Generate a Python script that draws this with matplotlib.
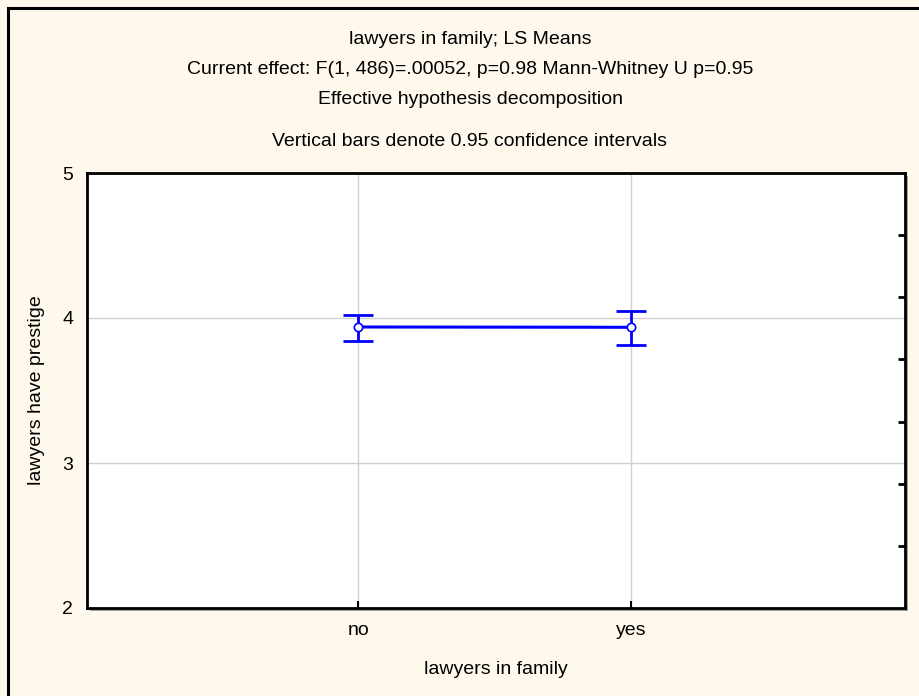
import matplotlib
matplotlib.use("Agg")
import matplotlib.pyplot as plt
from matplotlib.patches import Rectangle
import numpy as np

categories = ["no", "yes"]
means = [3.938, 3.936]
ci_low = [3.839, 3.811]
ci_high = [4.018, 4.050]
y_ticks = [2, 3, 4, 5]
title_lines = [
    "lawyers in family; LS Means",
    "Current effect: F(1, 486)=.00052, p=0.98 Mann-Whitney U p=0.95",
    "Effective hypothesis decomposition",
    "Vertical bars denote 0.95 confidence intervals",
]

plt.rcParams['font.family'] = ['Liberation Sans', 'DejaVu Sans']
bg = '#FFF8EC'
W, H = 920, 696
fig = plt.figure(figsize=(W/100, H/100), dpi=100, facecolor=bg)

# outer frame (top and left visible)
fig.patches.append(Rectangle((8/W, -0.1), 1.2, 1 - 8/H + 0.1, transform=fig.transFigure,
                             fill=False, edgecolor='black', linewidth=2.2, zorder=-1))

l, r, t, b = 87, 905, 173, 608
pos = [l/W, 1 - b/H, (r-l)/W, (b-t)/H]
# shadow
fig.patches.append(Rectangle((pos[0] + 3/W, pos[1] - 3/H), pos[2], pos[3], transform=fig.transFigure,
                             facecolor='#A0A0A0', edgecolor='none', zorder=-1))
ax = fig.add_axes(pos)
ax.set_facecolor('white')

x = np.arange(len(categories))
m = np.array(means)
yerr = np.vstack([m - np.array(ci_low), np.array(ci_high) - m])
ax.plot(x, m, color='#0000FF', linewidth=2.2, zorder=3)
ax.errorbar(x, m, yerr=yerr, fmt='none', ecolor='#0000FF', elinewidth=2,
            capsize=10.5, capthick=2, zorder=3)
ax.plot(x, m, 'o', markersize=6, markerfacecolor='white', markeredgecolor='#0000FF',
        markeredgewidth=1.2, zorder=4)

fs = 14
ax.set_xlim(-0.995, 2.005)
ax.set_ylim(2, 5)
ax.set_xticks(x)
ax.set_xticklabels(categories, fontsize=fs)
ax.set_yticks(y_ticks)
ax.set_yticklabels([str(v) for v in y_ticks], fontsize=fs)
ax.tick_params(axis='x', direction='in', length=5, width=1.5, color='black', pad=10)
ax.tick_params(axis='y', length=0, pad=10)
ax.grid(True, color='#D0D0D0', linewidth=1)
ax.set_axisbelow(True)
for s in ax.spines.values():
    s.set_linewidth(2)
    s.set_color('black')

ax2 = ax.twinx()
ax2.set_ylim(2, 5)
ax2.set_yticks([2 + 3*k/7 for k in range(1, 7)])
ax2.set_yticklabels([])
ax2.tick_params(axis='y', direction='in', length=5, width=2, color='black')
for s in ax2.spines.values():
    s.set_visible(False)

ax.set_xlabel("lawyers in family", fontsize=fs, labelpad=16)
ax.set_ylabel("lawyers have prestige", fontsize=fs, labelpad=12)

ys = [40, 70, 100, 142]
for line, yy in zip(title_lines, ys):
    fig.text(470/W, 1 - yy/H, line, ha='center', va='center', fontsize=fs)

fig.savefig("out.png", dpi=100, facecolor=bg)
